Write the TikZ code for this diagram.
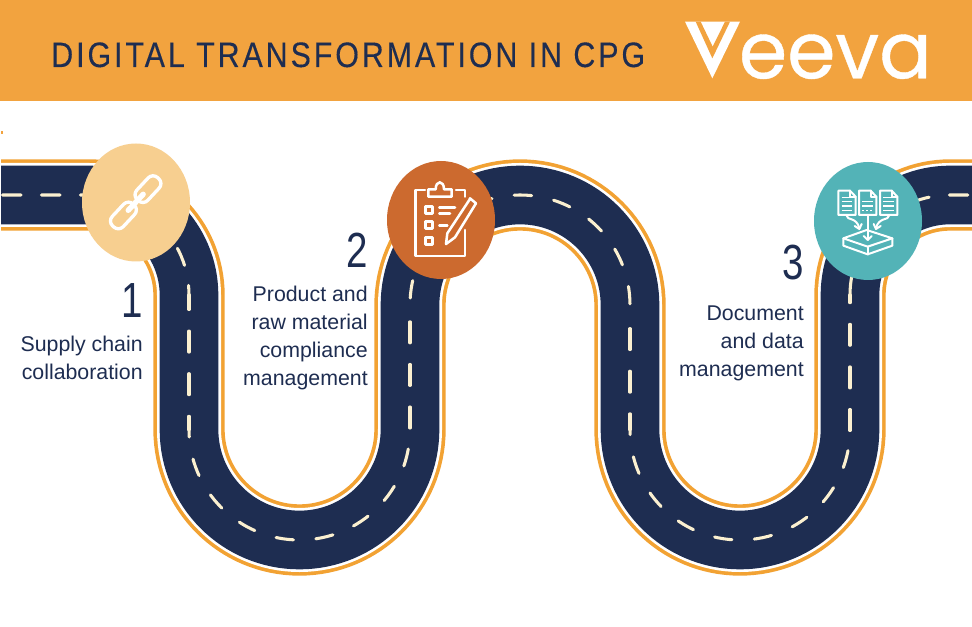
\documentclass[tikz,border=0pt]{standalone}
\usepackage{fontspec}
\setmainfont{Liberation Sans}
\newfontfamily\titlefont[FakeStretch=0.86,LetterSpace=8.3,FakeBold=0.25]{Liberation Sans}
\newfontfamily\numfont[FakeStretch=0.78]{Liberation Sans}
\newfontfamily\logofont[FakeStretch=0.99,FakeBold=0.5]{Poppins}
\definecolor{hdr}{HTML}{F2A33F}
\definecolor{roadorange}{HTML}{F2A233}
\definecolor{navy}{HTML}{1E2D51}
\definecolor{cream}{HTML}{FBF0D0}
\definecolor{peach}{HTML}{F7CF90}
\definecolor{rust}{HTML}{CC6A2F}
\definecolor{teal}{HTML}{53B3B7}
\def\roadpath{(1,195) -- (89,195) .. controls (144.2,195) and (189,239.8) .. (189,295) -- (189,429.5) .. controls (189,490.5) and (238.5,540) .. (299.5,540) .. controls (360.5,540) and (410,490.5) .. (410,429.5) -- (410,305) .. controls (410,244.2) and (459.2,195) .. (520,195) .. controls (580.8,195) and (630,244.2) .. (630,305) -- (630,429.5) .. controls (630,490.5) and (679.2,540) .. (740,540) .. controls (800.8,540) and (850,490.5) .. (850,429.5) -- (850,295) .. controls (850,239.8) and (894.8,195) .. (950,195) -- (975,195)}
\tikzset{
  iconline/.style={draw=white,line width=2.5pt,line cap=round,line join=round},
  thinicon/.style={draw=white,line width=1.9pt,line cap=round,line join=round},
  docicon/.style={draw=white,line width=1.5pt,line cap=round,line join=round},
  lane/.style={cream,line width=2.3pt,line cap=round},
  lanecurve/.style={lane,dash pattern=on 13.13pt off 16.87pt},
  lanestraight/.style={lane,dash pattern=on 15.75pt off 16.2pt},
  laneend/.style={lane,dash pattern=on 13.88pt off 15.37pt},
  bodytext/.style={text=navy,anchor=base east,font=\fontsize{16pt}{21pt}\selectfont,inner sep=0pt},
  bignum/.style={text=navy,anchor=base east,font=\numfont\fontsize{37pt}{37pt}\selectfont,inner sep=0pt}
}
\begin{document}
\begin{tikzpicture}[x=0.75pt,y=-0.75pt]
\useasboundingbox (0,0) rectangle (972,627);
\fill[white] (0,0) rectangle (972,627);
\fill[hdr] (0,0) rectangle (972,101);
\fill[hdr] (1,131) rectangle (3,134);
\node[anchor=base west,text=navy,inner sep=0pt,font=\titlefont\fontsize{26.5pt}{30pt}\selectfont] (title) at (51,67) {DIGITAL TRANSFORMATION IN CPG};
% logo
\node[anchor=base west,text=white,inner sep=0pt,font=\logofont\fontsize{59pt}{60pt}\selectfont] (logo) at (686,78.3) {Veeva};
\begin{scope}[shift={(680,15)},x=.25pt,y=-.25pt]
\fill[hdr] (0,0) rectangle (175,195);
\fill[white] (15,20) -- (180,20) -- (97,190) -- cycle;
\fill[hdr] (47,20) -- (62,20) -- (98,95) -- (135,20) -- (150,20) -- (97,130) -- cycle;
\end{scope}
% road
\draw[roadorange,line width=53.5pt] \roadpath;
\draw[white,line width=48pt] \roadpath;
\draw[navy,line width=44pt] \roadpath;
% lane markings
\draw[laneend] (2.5,195) -- (89,195) .. controls (144.2,195) and (189,239.8) .. (189,295);
\draw[lanestraight,dash phase=4.88pt] (189,295) -- (189,429.5);
\draw[lanecurve,dash phase=7.5pt] (189,429.5) .. controls (189,490.5) and (238.5,540) .. (299.5,540) .. controls (360.5,540) and (410,490.5) .. (410,429.5);
\draw[lanestraight,dash phase=30.83pt] (410,429.5) -- (410,305);
\draw[lanecurve,dash phase=24.75pt] (410,305) .. controls (410,244.2) and (459.2,195) .. (520,195) .. controls (580.8,195) and (630,244.2) .. (630,305);
\draw[lanestraight,dash phase=15.75pt] (630,307) -- (630,429.5);
\draw[lanecurve,dash phase=9.3pt] (630,429.5) .. controls (630,490.5) and (679.2,540) .. (740,540) .. controls (800.8,540) and (850,490.5) .. (850,429.5);
\draw[lanestraight] (850,430.5) -- (850,295);
\draw[laneend,dash phase=28.88pt] (850,295) .. controls (850,239.8) and (894.8,195) .. (950,195) -- (975,195);
% circles
\fill[peach] (136,202.5) ellipse [x radius=54,y radius=59];
\fill[rust] (441,220) ellipse [x radius=54,y radius=59];
\fill[teal] (868,221) ellipse [x radius=54,y radius=59];
% chain icon
\begin{scope}[shift={(135.7,202.3)},rotate=47]
\draw[iconline,rounded corners=5pt] (-33,-7.5) rectangle (-3,7.5);
\draw[iconline,rounded corners=5pt] (3,-7.5) rectangle (33,7.5);
\draw[white,line width=4pt,line cap=round] (-11,0) -- (11,0);
\end{scope}
% clipboard icon
\begin{scope}[shift={(370,150)},x=.25pt,y=-.25pt]
\draw[thinicon] (165,120) -- (137,120) -- (137,318) -- (285,318) -- (285,240);
\draw[thinicon] (258,120) -- (285,120) -- (285,140);
\draw[thinicon] (175,140) -- (175,118) -- (197,118) .. controls (197,90) and (222,90) .. (222,118) -- (245,118) -- (245,140) -- cycle;
\draw[thinicon] (167,169) rectangle (188,190);
\draw[thinicon] (167,215) rectangle (188,236);
\draw[thinicon] (167,262) rectangle (188,283);
\draw[thinicon] (208,172) -- (255,172);
\draw[thinicon] (208,190) -- (240,190);
\draw[thinicon] (208,227) -- (232,227);
\draw[thinicon] (298,150) -- (232,250) -- (228,282) -- (255,262) -- (318,160) -- (300,145) -- cycle;
\end{scope}
% documents icon
\begin{scope}[shift={(800,150)},x=.25pt,y=-.25pt]
\foreach \dx in {0,62,125}{
\begin{scope}[xshift=\dx*.25pt]
\draw[docicon] (115,122) -- (150,122) -- (167,140) -- (167,195) -- (115,195) -- cycle;
\draw[docicon] (150,122) -- (150,140) -- (167,140);
\end{scope}}
\foreach \dy in {142,155,168,181}{\draw[white,line width=1.1pt] (125,\dy) -- (157,\dy);\draw[white,line width=1.1pt] (250,\dy) -- (283,\dy);}
\draw[white,line width=1.1pt] (187,155) -- (219,155);
\draw[white,line width=1.1pt] (187,168) -- (219,168);
\draw[white,line width=1.1pt,dash pattern=on 1.5pt off 1.5pt] (187,182) -- (219,182);
\draw[docicon] (130,265) -- (200,240) -- (277,265) -- (203,290) -- cycle;
\draw[docicon] (130,265) -- (130,287) -- (203,313) -- (277,287) -- (277,265);
\draw[docicon] (203,290) -- (203,313);
\draw[docicon] (203,195) -- (203,270);
\draw[docicon] (191,258) -- (203,270) -- (215,258);
\draw[docicon] (140,197) .. controls (140,212) and (170,200) .. (178,235);
\draw[docicon] (164,228) -- (178,237) -- (185,222);
\draw[docicon] (267,197) .. controls (267,212) and (236,200) .. (228,235);
\draw[docicon] (242,228) -- (228,237) -- (221,222);
\end{scope}
% labels
\node[bignum] (n1) at (143,318) {1};
\node[bignum] (n2) at (368,268) {2};
\node[bignum] (n3) at (804,280) {3};
\node[bodytext] (t1a) at (143,352) {Supply chain};
\node[bodytext] (t1b) at (143,380) {collaboration};
\node[bodytext] (t2a) at (368,302) {Product and};
\node[bodytext] (t2b) at (368,330) {raw material};
\node[bodytext] (t2c) at (368,358) {compliance};
\node[bodytext] (t2d) at (368,386) {management};
\node[bodytext] (t3a) at (804,321) {Document};
\node[bodytext] (t3b) at (804,349) {and data};
\node[bodytext] (t3c) at (804,377) {management};
\end{tikzpicture}
\end{document}
